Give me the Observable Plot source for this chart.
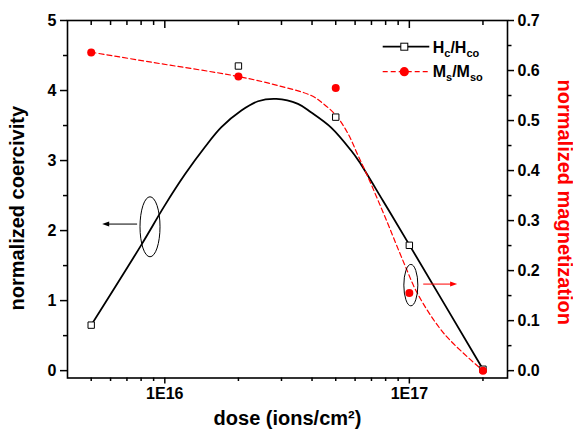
<!DOCTYPE html>
<html><head><meta charset="utf-8">
<script src="https://cdn.jsdelivr.net/npm/d3@7"></script>
<script src="https://cdn.jsdelivr.net/npm/@observablehq/plot@0.6"></script>
<style>
body{margin:0;background:#fff;}
#wrap{position:relative;width:573px;height:430px;overflow:hidden;font-family:"Liberation Sans",Arial,sans-serif;}
#legend{position:absolute;left:0;top:0;pointer-events:none;}
</style></head><body><div id="wrap"></div>
<script>
// measured points
const doses = [5e15, 2e16, 5e16, 1e17, 2e17];
const hcRatio = [0.65, 4.35, 3.62, 1.79, 0.02];
const msRatio = [0.636, 0.588, 0.565, 0.155, 0.0];
// fitted guide curves
const hcFitDose = [5e15, 8.03e15, 1e16, 1.207e16, 1.457e16, 1.704e16, 2.056e16, 2.406e16, 2.857e16, 3.504e16, 3.96e16, 4.79e16, 5.78e16, 6.23e16, 7.79e16, 1e17, 2e17];
const hcFitValue = [0.65, 1.80, 2.36, 2.80, 3.19, 3.476, 3.714, 3.847, 3.881, 3.81, 3.69, 3.471, 3.143, 2.986, 2.43, 1.796, 0.02];
const msFitDose = [5e15, 8.82e15, 2e16, 2.9e16, 3.97e16, 4.44e16, 5.02e16, 5.61e16, 6.17e16, 6.76e16, 7.91e16, 9.54e16, 1.082e17, 1.39e17, 2e17];
const msFitValue = [0.6366, 0.6166, 0.588, 0.570, 0.550, 0.534, 0.510, 0.474, 0.430, 0.388, 0.310, 0.2134, 0.1534, 0.0734, 0.0];
// axes
const leftTicks = [0, 1, 2, 3, 4, 5];
const leftMinor = [0.5, 1.5, 2.5, 3.5, 4.5];
const rightTicks = [0, 0.1, 0.2, 0.3, 0.4, 0.5, 0.6, 0.7];
const rightMinor = [0.05, 0.15, 0.25, 0.35, 0.45, 0.55, 0.65];
const xMajor = [1e16, 1e17];
const xMajorLabels = ["1E16", "1E17"];
const xMinor = [5e15, 6e15, 7e15, 8e15, 9e15, 2e16, 3e16, 4e16, 5e16, 6e16, 7e16, 8e16, 9e16, 2e17];
// annotations (data units)
const ellipseDose = [8.74e15, 1.019e17];
const ellipseValue = [2.047, 1.214];
const arrowFrom = [7.74e15, 1.145e17];
const arrowTo = [5.57e15, 1.576e17];
const arrowValue = [2.086, 1.229];
const xTitle = "dose (ions/cm²)";
const yTitle = "normalized coercivity";
const y2Title = "normalized magnetization";

const K = 5 / 0.7; // magnetization -> coercivity units
const pts = doses.map((d, i) => ({dose: d, hc: hcRatio[i], ms: msRatio[i]}));
const hcFit = hcFitDose.map((d, i) => ({dose: d, v: hcFitValue[i]}));
const msFit = msFitDose.map((d, i) => ({dose: d, v: msFitValue[i]}));

const ann = (index, scales) => {
  const g = d3.create("svg:g");
  const er = [[10, 30], [7, 20.7]];
  const col = ["black", "red"];
  ellipseDose.forEach((d, i) => {
    g.append("ellipse").attr("cx", scales.x(d)).attr("cy", scales.y(ellipseValue[i]))
      .attr("rx", er[i][0]).attr("ry", er[i][1]).attr("fill", "none").attr("stroke", "black").attr("stroke-width", 1);
  });
  arrowFrom.forEach((d, i) => {
    const x1 = scales.x(d), x2 = scales.x(arrowTo[i]), y = scales.y(arrowValue[i]);
    const s = Math.sign(x2 - x1);
    g.append("line").attr("x1", x1).attr("x2", x2 - s * 5).attr("y1", y).attr("y2", y)
      .attr("stroke", col[i]).attr("stroke-width", 1);
    g.append("path").attr("d", `M${x2},${y}L${x2 - s * 7},${y - 2.5}L${x2 - s * 7},${y + 2.5}Z`).attr("fill", col[i]);
  });
  return g.node();
};

const font = '"Liberation Sans", Arial, sans-serif';
const plot = Plot.plot({
  width: 573, height: 430,
  marginLeft: 67, marginRight: 66, marginTop: 20, marginBottom: 52.5,
  style: {fontFamily: font, fontWeight: "bold", fontSize: "16px", color: "black", background: "white", overflow: "visible"},
  x: {type: "log", domain: [4e15, 2.52e17]},
  y: {domain: [-0.105, 5]},
  marks: [
    Plot.frame({stroke: "black", strokeWidth: 1.6}),
    Plot.axisY({ticks: leftTicks, tickSize: 7, tickPadding: 4, strokeWidth: 1.5, label: null, tickFormat: d => String(d)}),
    Plot.axisY({ticks: leftMinor, tickSize: 4, strokeWidth: 1.5, label: null, tickFormat: () => ""}),
    Plot.axisY({anchor: "right", ticks: rightTicks.map(v => v * K), tickSize: 6, tickPadding: 4, strokeWidth: 1.5, label: null, tickFormat: d => (d / K).toFixed(1)}),
    Plot.axisY({anchor: "right", ticks: rightMinor.map(v => v * K), tickSize: 3.5, strokeWidth: 1.5, label: null, tickFormat: () => ""}),
    Plot.axisX({ticks: xMajor, tickSize: 6, tickPadding: 4, strokeWidth: 1.5, label: null, tickFormat: d => xMajorLabels[xMajor.indexOf(d)]}),
    Plot.axisX({ticks: xMinor, tickSize: 3.5, strokeWidth: 1.5, label: null, tickFormat: () => ""}),
    Plot.axisX({anchor: "top", ticks: xMajor, tickSize: -7, strokeWidth: 1.5, label: null, tickFormat: () => ""}),
    Plot.axisX({anchor: "top", ticks: xMinor, tickSize: -4, strokeWidth: 1.5, label: null, tickFormat: () => ""}),
    Plot.text([yTitle], {frameAnchor: "left", dx: -50, dy: 9, rotate: -90, textAnchor: "middle", lineAnchor: "middle", fontSize: 20, fontWeight: "bold", fill: "black"}),
    Plot.text([y2Title], {frameAnchor: "right", dx: 57, dy: 3, rotate: 90, textAnchor: "middle", lineAnchor: "middle", fontSize: 20, fontWeight: "bold", fill: "red"}),
    Plot.text([xTitle], {frameAnchor: "bottom", dy: 41, textAnchor: "middle", lineAnchor: "middle", fontSize: 20, fontWeight: "bold", fill: "black"}),
    Plot.line(hcFit, {x: "dose", y: "v", curve: "catmull-rom", stroke: "black", strokeWidth: 1.8}),
    Plot.line(msFit, {x: "dose", y: d => d.v * K, curve: "catmull-rom", stroke: "red", strokeWidth: 1.2, strokeDasharray: "5,3"}),
    ann,
    Plot.dot(pts, {x: "dose", y: "hc", symbol: "square", r: 3.6, stroke: "black", fill: "white", strokeWidth: 1}),
    Plot.dot(pts, {x: "dose", y: d => d.ms * K, r: 4, fill: "red", stroke: null})
  ]
});
const wrap = document.getElementById("wrap");
wrap.appendChild(plot);

const legend = `
<svg id="legend" width="573" height="430" xmlns="http://www.w3.org/2000/svg" font-family='Liberation Sans, Arial, sans-serif' font-weight="bold">
 <line x1="382.7" x2="429.3" y1="46.7" y2="46.7" stroke="black" stroke-width="1.8"/>
 <rect x="400.8" y="43.2" width="7" height="7" fill="white" stroke="black" stroke-width="1"/>
 <text x="432.7" y="53.3" font-size="16">H<tspan font-size="11" dy="4">c</tspan><tspan dy="-4">/H</tspan><tspan font-size="11" dy="4">co</tspan></text>
 <line x1="382.7" x2="429.3" y1="71.7" y2="71.7" stroke="red" stroke-width="1.2" stroke-dasharray="5,3"/>
 <circle cx="404.3" cy="71.7" r="4.6" fill="red"/>
 <text x="432.7" y="77" font-size="16">M<tspan font-size="11" dy="4">s</tspan><tspan dy="-4">/M</tspan><tspan font-size="11" dy="4">so</tspan></text>
</svg>`;
wrap.insertAdjacentHTML("beforeend", legend);
</script></body></html>
